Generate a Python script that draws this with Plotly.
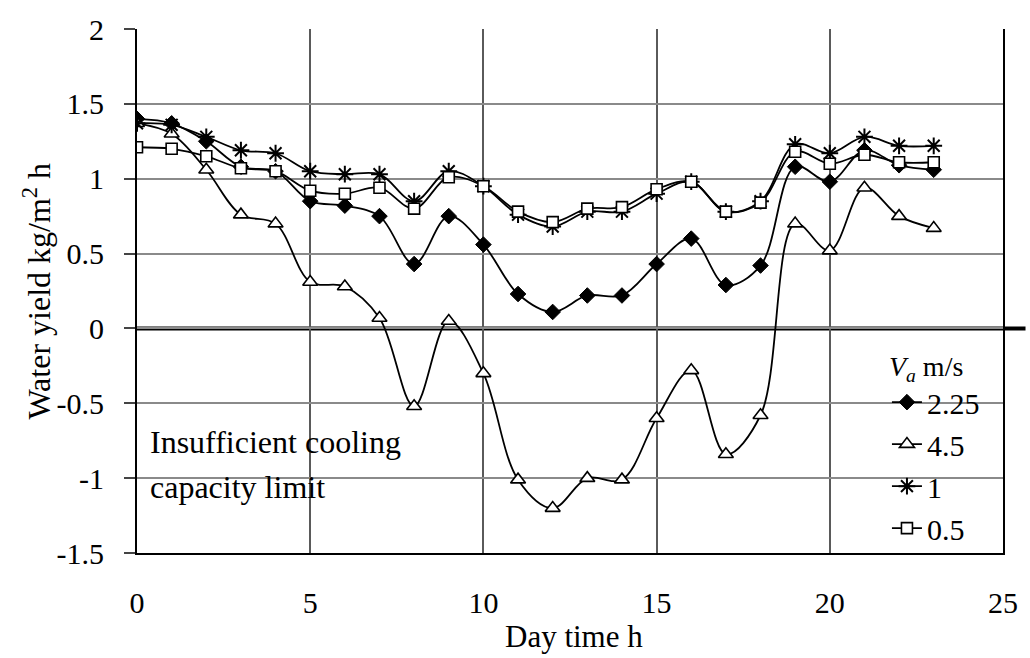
import plotly.graph_objects as go

# Hourly water yield (kg/m² h) for each air velocity Va (m/s)
hours = list(range(24))
yield_va_2_25 = [1.40, 1.37, 1.25, 1.08, 1.05, 0.85, 0.82, 0.75, 0.43, 0.75, 0.56, 0.23,
                 0.11, 0.22, 0.22, 0.43, 0.60, 0.29, 0.42, 1.08, 0.98, 1.19, 1.09, 1.06]
yield_va_4_5 = [1.37, 1.30, 1.06, 0.76, 0.70, 0.31, 0.28, 0.07, -0.52, 0.05, -0.30, -1.01,
                -1.20, -1.00, -1.01, -0.60, -0.28, -0.84, -0.58, 0.70, 0.52, 0.94, 0.75, 0.67]
yield_va_1 = [1.37, 1.36, 1.28, 1.19, 1.17, 1.05, 1.03, 1.03, 0.85, 1.05, 0.95, 0.76,
              0.68, 0.78, 0.78, 0.90, 0.98, 0.78, 0.85, 1.23, 1.17, 1.28, 1.22, 1.22]
yield_va_0_5 = [1.21, 1.20, 1.15, 1.07, 1.05, 0.92, 0.90, 0.94, 0.80, 1.01, 0.95, 0.78,
                0.71, 0.80, 0.81, 0.93, 0.98, 0.78, 0.84, 1.18, 1.10, 1.16, 1.11, 1.11]

series_labels = ["2.25", "4.5", "1", "0.5"]
x_tick_vals = [0, 5, 10, 15, 20, 25]
y_tick_vals = [2, 1.5, 1, 0.5, 0, -0.5, -1, -1.5]
y_tick_text = ["2", "1.5", "1", "0.5", "0", "-0.5", "-1", "-1.5"]

FONT = "Liberation Serif"
INK = "black"

series = [
    (yield_va_2_25, dict(symbol="diamond", size=12, color=INK, line=dict(color=INK, width=1))),
    (yield_va_4_5, dict(symbol="triangle-up", size=13, color="white", line=dict(color=INK, width=1.6))),
    (yield_va_1, dict(symbol="asterisk-open", size=14, color=INK, line=dict(color=INK, width=2))),
    (yield_va_0_5, dict(symbol="square", size=11, color="white", line=dict(color=INK, width=1.6))),
]

fig = go.Figure()
for i, (values, marker) in enumerate(series):
    fig.add_trace(go.Scatter(
        x=hours, y=values, name=series_labels[i],
        mode="lines+markers",
        line=dict(color=INK, width=1.8, shape="spline", smoothing=1.0),
        marker=marker,
    ))

# Thick zero reference line, running past the right frame
fig.add_shape(type="line", xref="paper", yref="y", x0=0, x1=1.026, y0=0, y1=0,
              line=dict(color=INK, width=4), layer="between")

# White panel behind the legend so the gridlines stop at its edge
fig.add_shape(type="rect", xref="paper", yref="y", x0=0.853, x1=0.997, y0=-1.495, y1=-0.16,
              line=dict(width=0), fillcolor="white", layer="between")

fig.add_annotation(text="Insufficient cooling", xref="x", yref="y", x=0.33, y=-0.76,
                   xanchor="left", yanchor="middle", showarrow=False,
                   font=dict(family=FONT, size=32, color=INK))
fig.add_annotation(text="capacity limit", xref="x", yref="y", x=0.33, y=-1.06,
                   xanchor="left", yanchor="middle", showarrow=False,
                   font=dict(family=FONT, size=32, color=INK))

fig.add_annotation(text="Water yield kg/m<sup>2</sup> h", xref="paper", yref="paper",
                   x=-0.116, y=0.5, textangle=-90, xanchor="center", yanchor="middle",
                   showarrow=False, font=dict(family=FONT, size=32, color=INK))
fig.add_annotation(text="Day time h", xref="paper", yref="paper",
                   x=0.505, y=-0.159, xanchor="center", yanchor="middle",
                   showarrow=False, font=dict(family=FONT, size=31, color=INK))

fig.update_layout(
    width=1030, height=658,
    margin=dict(l=137, r=22, t=24, b=105),
    paper_bgcolor="white", plot_bgcolor="white",
    font=dict(family=FONT, size=30, color=INK),
    showlegend=True,
    legend=dict(
        x=0.866, y=0.407, xanchor="left", yanchor="top",
        bgcolor="rgba(0,0,0,0)", borderwidth=0,
        font=dict(family=FONT, size=30, color=INK),
        title=dict(text="<i>V</i><sub><i>a</i></sub> m/s", font=dict(family=FONT, size=28, color=INK)),
        traceorder="normal", tracegroupgap=0,
        itemsizing="trace",
    ),
)

fig.update_xaxes(
    range=[0, 25], tickvals=x_tick_vals,
    showgrid=True, gridcolor="#5a5a5a", gridwidth=1.5,
    showline=True, linecolor=INK, linewidth=2, mirror=False,
    ticks="", ticklabelstandoff=22, zeroline=False,
    tickfont=dict(family=FONT, size=30, color=INK),
)
fig.update_yaxes(
    range=[-1.5, 2], tickvals=y_tick_vals, ticktext=y_tick_text,
    showgrid=True, gridcolor="#8a8a8a", gridwidth=1.5,
    showline=True, linecolor=INK, linewidth=2, mirror=True,
    ticks="outside", ticklen=11, tickcolor="#444", tickwidth=1.5,
    ticklabelstandoff=14, zeroline=False,
    tickfont=dict(family=FONT, size=30, color=INK),
)

fig.write_html("out.html")
